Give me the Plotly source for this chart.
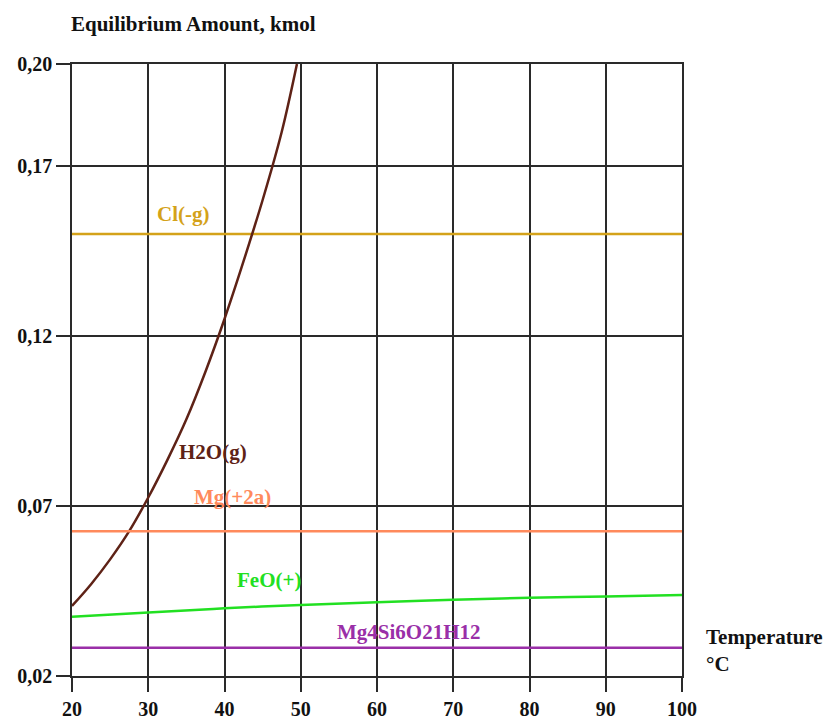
import plotly.graph_objects as go

# Temperature grid (°C) and equilibrium amounts (kmol)
temp = [20, 30, 40, 50, 60, 70, 80, 90, 100]
cl_g = [0.15] * len(temp)
mg_2a = [0.0626] * len(temp)
feo_p = [0.0374, 0.0387, 0.0399, 0.0409, 0.0417, 0.0424, 0.0430, 0.0434, 0.0438]
mg4si6 = [0.0283] * len(temp)

h2o_temp = [20, 22.5, 25, 27.5, 30, 32.5, 35, 37.5, 40, 42.5, 45, 47.5, 49.5]
h2o_g = [0.0406, 0.0470, 0.0543, 0.0626, 0.0725, 0.0835, 0.0955, 0.1095, 0.1250,
         0.1420, 0.1600, 0.1800, 0.2000]

x_ticks = [20, 30, 40, 50, 60, 70, 80, 90, 100]
y_ticks = [0.02, 0.07, 0.12, 0.17, 0.20]
y_ticktext = ["0,02", "0,07", "0,12", "0,17", "0,20"]

# species: (name, x, y, colour, label x, label y)
species = [
    ("Cl(-g)", temp, cl_g, "#D4A21A", 34.5, 0.1559),
    ("H2O(g)", h2o_temp, h2o_g, "#5E2216", 38.5, 0.0859),
    ("Mg(+2a)", temp, mg_2a, "#FF8A5C", 41.1, 0.0726),
    ("FeO(+)", temp, feo_p, "#22E022", 45.9, 0.0482),
    ("Mg4Si6O21H12", temp, mg4si6, "#9A2FA8", 64.2, 0.0329),
]

serif = "Liberation Serif"
fig = go.Figure()
for name, xs, ys, col, lx, ly in species:
    fig.add_trace(go.Scatter(x=xs, y=ys, mode="lines", name=name,
                             line=dict(color=col, width=2.5, shape="spline"),
                             showlegend=False))
    fig.add_annotation(x=lx, y=ly, text="<b>" + name + "</b>", showarrow=False,
                       font=dict(family=serif, size=21, color=col))

axis_common = dict(showgrid=True, gridcolor="#2a2a2a", gridwidth=1.6,
                   showline=True, linecolor="#2a2a2a", linewidth=1.6, mirror=True,
                   ticks="outside", ticklen=14, tickcolor="#2a2a2a", tickwidth=1.6,
                   zeroline=False, automargin=False,
                   tickfont=dict(family=serif, size=20, color="#111"))

fig.update_xaxes(range=[20, 100], tickvals=x_ticks,
                 ticktext=["<b>%d</b>" % v for v in x_ticks], **axis_common)
fig.update_yaxes(range=[0.02, 0.20], tickvals=y_ticks,
                 ticktext=["<b>%s</b>" % t for t in y_ticktext], **axis_common)

fig.add_annotation(xref="paper", yref="paper", x=-0.005, y=1.0, yshift=26,
                   xanchor="left", yanchor="bottom",
                   text="<b>Equilibrium Amount, kmol</b>", showarrow=False,
                   font=dict(family=serif, size=21, color="#111"))
fig.add_annotation(xref="paper", yref="paper", x=1.0, y=0.0, xshift=22, yshift=26,
                   xanchor="left", yanchor="middle", align="left",
                   text="<b>Temperature</b><br><b>°C</b>", showarrow=False,
                   font=dict(family=serif, size=21, color="#111"))

fig.update_layout(width=823, height=720,
                  margin=dict(l=72, r=141, t=64, b=44),
                  plot_bgcolor="white", paper_bgcolor="white",
                  font=dict(family=serif))
fig.write_html("out.html")
